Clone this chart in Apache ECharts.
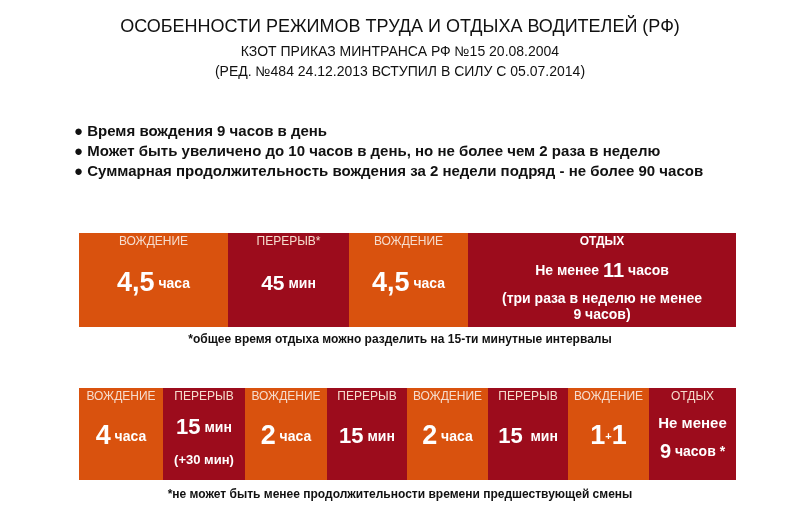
<!DOCTYPE html>
<html>
<head>
<meta charset="UTF-8">
<script src="https://cdn.jsdelivr.net/npm/echarts@6/dist/echarts.min.js"></script>
<style>body{margin:0;background:#fff}</style>
</head>
<body>
<div id="main" style="width:800px;height:528px;"></div>
<script>
// верхняя схема
var topHeads = ['ВОЖДЕНИЕ', 'ПЕРЕРЫВ*', 'ВОЖДЕНИЕ', 'ОТДЫХ'];
var topSpans = [149, 121, 119, 268];
var topKinds = ['drive', 'rest', 'drive', 'rest'];
var topText = [
  '{b|4,5}{u| часа}',
  '{m|45}{u| мин}',
  '{b|4,5}{u| часа}',
  '{t1|Не менее }{tb|11}{t1| часов}\n{t2|(три раза в неделю не менее}\n{t3|9 часов)}'
];
// нижняя схема
var botHeads = ['ВОЖДЕНИЕ', 'ПЕРЕРЫВ', 'ВОЖДЕНИЕ', 'ПЕРЕРЫВ', 'ВОЖДЕНИЕ', 'ПЕРЕРЫВ', 'ВОЖДЕНИЕ', 'ОТДЫХ'];
var botSpans = [84, 82, 82, 80, 81, 80, 81, 87];
var botKinds = ['drive', 'rest', 'drive', 'rest', 'drive', 'rest', 'drive', 'rest'];
var botText = [
  '{B|4}{u| часа}',
  '{M2|15}{u| мин}\n{s|(+30 мин)}',
  '{B|2}{u| часа}',
  '{M|15}{u| мин}',
  '{B|2}{u| часа}',
  '{M|15}{u|  мин}',
  '{B|1}{p|+}{B|1}',
  '{n1|Не менее}\n{n2|9}{n2u| часов *}'
];
var bullets = [
  '● Время вождения 9 часов в день',
  '● Может быть увеличено до 10 часов в день, но не более чем 2 раза в неделю',
  '● Суммарная продолжительность вождения за 2 недели подряд - не более 90 часов'
];

var colors = {drive: '#d9520e', rest: '#9c0c1c'};
var F = 'Liberation Sans';
var rich = {
  h: {fontSize: 12, color: '#f6dccd', lineHeight: 18, fontFamily: F},
  hb: {fontSize: 12, color: '#fff', fontWeight: 'bold', lineHeight: 18, fontFamily: F},
  b: {fontSize: 27, fontWeight: 'bold', color: '#fff', lineHeight: 66, fontFamily: F},
  m: {fontSize: 21, fontWeight: 'bold', color: '#fff', lineHeight: 66, fontFamily: F},
  u: {fontSize: 14, fontWeight: 'bold', color: '#fff', fontFamily: F},
  t1: {fontSize: 14, fontWeight: 'bold', color: '#fff', lineHeight: 40, fontFamily: F},
  tb: {fontSize: 20, fontWeight: 'bold', color: '#fff', lineHeight: 40, fontFamily: F},
  t2: {fontSize: 14, fontWeight: 'bold', color: '#fff', lineHeight: 16, fontFamily: F},
  t3: {fontSize: 14, fontWeight: 'bold', color: '#fff', lineHeight: 16, fontFamily: F},
  B: {fontSize: 27, fontWeight: 'bold', color: '#fff', lineHeight: 62, fontFamily: F},
  M: {fontSize: 22, fontWeight: 'bold', color: '#fff', lineHeight: 62, fontFamily: F},
  M2: {fontSize: 22, fontWeight: 'bold', color: '#fff', lineHeight: 44, fontFamily: F},
  s: {fontSize: 13, fontWeight: 'bold', color: '#fff', lineHeight: 20, fontFamily: F},
  p: {fontSize: 11, fontWeight: 'bold', color: '#fff', fontFamily: F},
  n1: {fontSize: 15, fontWeight: 'bold', color: '#fff', lineHeight: 36, fontFamily: F},
  n2: {fontSize: 20, fontWeight: 'bold', color: '#fff', lineHeight: 20, fontFamily: F},
  n2u: {fontSize: 14, fontWeight: 'bold', color: '#fff', fontFamily: F}
};

function makeSeries(heads, spans, kinds, texts, idx) {
  return spans.map(function (v, i) {
    var head = heads[i] === 'ОТДЫХ' && idx === 0 ? '{hb|' + heads[i] + '}' : '{h|' + heads[i] + '}';
    return {
      type: 'bar', stack: 's' + idx, xAxisIndex: idx, yAxisIndex: idx,
      barWidth: '100%', silent: true,
      data: [v],
      itemStyle: {color: colors[kinds[i]]},
      label: {
        show: true, position: 'insideTop', distance: 0,
        formatter: head + '\n' + texts[i], rich: rich, align: 'center'
      }
    };
  });
}

var chart = echarts.init(document.getElementById('main'));
chart.setOption({
  animation: false,
  grid: [
    {left: 79, right: 64, top: 233, height: 94},
    {left: 79, right: 64, top: 388, height: 92}
  ],
  xAxis: [
    {type: 'value', gridIndex: 0, min: 0, max: topSpans.reduce(function (a, b) { return a + b; }), show: false},
    {type: 'value', gridIndex: 1, min: 0, max: botSpans.reduce(function (a, b) { return a + b; }), show: false}
  ],
  yAxis: [
    {type: 'category', gridIndex: 0, data: ['a'], show: false},
    {type: 'category', gridIndex: 1, data: ['b'], show: false}
  ],
  series: makeSeries(topHeads, topSpans, topKinds, topText, 0)
    .concat(makeSeries(botHeads, botSpans, botKinds, botText, 1)),
  graphic: [
    {type: 'text', left: 'center', top: 18, style: {text: 'ОСОБЕННОСТИ РЕЖИМОВ ТРУДА И ОТДЫХА ВОДИТЕЛЕЙ (РФ)', font: '18px "Liberation Sans"', fill: '#111'}},
    {type: 'text', left: 'center', top: 45, style: {text: 'КЗОТ ПРИКАЗ МИНТРАНСА РФ №15 20.08.2004', font: '14px "Liberation Sans"', fill: '#111'}},
    {type: 'text', left: 'center', top: 65, style: {text: '(РЕД. №484 24.12.2013 ВСТУПИЛ В СИЛУ С 05.07.2014)', font: '14px "Liberation Sans"', fill: '#111'}},
    {type: 'text', left: 74, top: 122, style: {text: bullets.join('\n'), font: 'bold 15px "Liberation Sans"', lineHeight: 20, fill: '#111'}},
    {type: 'text', left: 'center', top: 334, style: {text: '*общее время отдыха можно разделить на 15-ти минутные интервалы', font: 'bold 12px "Liberation Sans"', fill: '#111'}},
    {type: 'text', left: 'center', top: 489, style: {text: '*не может быть менее продолжительности времени предшествующей смены', font: 'bold 12px "Liberation Sans"', fill: '#111'}}
  ]
});
</script>
</body>
</html>
